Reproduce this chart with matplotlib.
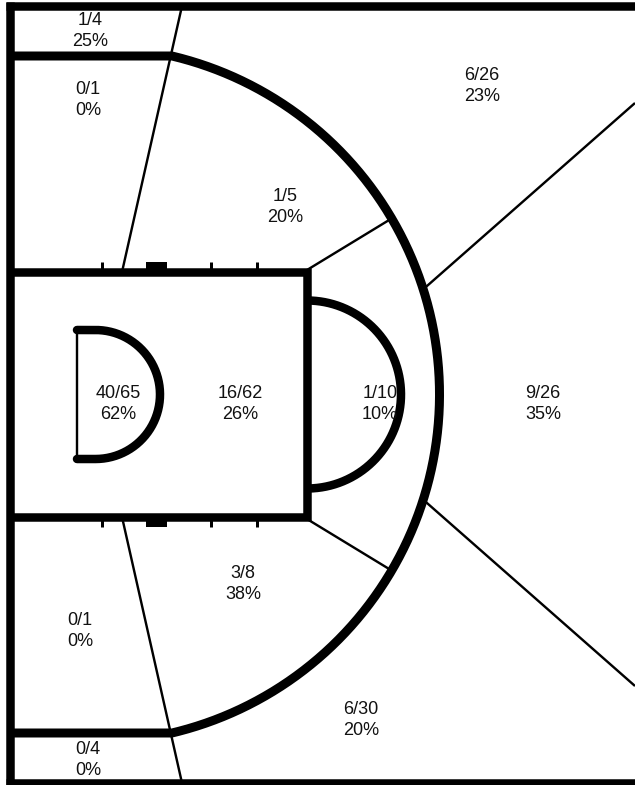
import numpy as np
import matplotlib.pyplot as plt

plt.rcParams['font.family'] = ['Liberation Sans', 'DejaVu Sans']

# shooting zones: makes / attempts
zones = ['top corner', 'top baseline mid', 'top wing 3', 'top elbow mid', 'restricted',
         'paint', 'top of key mid', 'top of key 3', 'bottom elbow mid', 'bottom baseline mid',
         'bottom wing 3', 'bottom corner']
made = [1, 0, 6, 1, 40, 16, 1, 9, 3, 0, 6, 0]
attempts = [4, 1, 26, 5, 65, 62, 10, 26, 8, 1, 30, 4]

# where each zone label sits (court drawn in pixel units, y down)
label_x = [90, 88, 482, 285, 118, 240, 380, 543, 243, 80, 361, 88]
label_y = [31, 100, 86, 207, 404, 404, 404, 404, 584, 631, 720, 760]

W, H = 635, 785
fig = plt.figure(figsize=(W / 100, H / 100), dpi=100)
ax = fig.add_axes([0, 0, 1, 1])
ax.set_xlim(0, W)
ax.set_ylim(H, 0)
ax.axis('off')

px = 0.72  # points per pixel at 100 dpi
thick = 8.5 * px
thin = 2.4 * px
ink = 'black'

mid_y = 394.5
left_x = 9.5
top_y, bot_y = 6, 783


def arc(cx, cy, r, a0, a1, n=200):
    t = np.linspace(np.radians(a0), np.radians(a1), n)
    return cx + r * np.cos(t), cy + r * np.sin(t)


# outer boundary
ax.plot([left_x, left_x], [top_y - 4, H], color=ink, lw=thick, solid_capstyle='butt')
ax.plot([left_x - 4, W], [top_y, top_y], color=ink, lw=thick, solid_capstyle='butt')
ax.plot([left_x - 4, W], [bot_y, bot_y], color=ink, lw=thick, solid_capstyle='butt')

# lane
lane_top, lane_bot, lane_right = 272, 517, 307
ax.plot([left_x, lane_right, lane_right, left_x],
        [lane_top, lane_top, lane_bot, lane_bot],
        color=ink, lw=thick, solid_joinstyle='miter', solid_capstyle='butt')

# lane hash marks and blocks
for hx in [102, 211, 257]:
    ax.plot([hx, hx], [lane_top - 10, lane_top], color=ink, lw=3 * px, solid_capstyle='butt')
    ax.plot([hx, hx], [lane_bot, lane_bot + 10], color=ink, lw=3 * px, solid_capstyle='butt')
for yy in [lane_top - 5, lane_bot + 5]:
    ax.plot([146, 167], [yy, yy], color=ink, lw=10 * px, solid_capstyle='butt')

# free throw semicircle
fx, fy = arc(lane_right, mid_y, 94, -90, 90)
ax.plot(fx, fy, color=ink, lw=thick, solid_capstyle='butt')

# restricted area
rx0, rcx, rr = 77, 95.5, 64.5
ax.plot([rx0, rx0], [mid_y - rr, mid_y + rr], color=ink, lw=thin)
ax_, ay_ = arc(rcx, mid_y, rr, -90, 90)
ax.plot(np.r_[rx0, ax_, rx0], np.r_[mid_y - rr, ay_, mid_y + rr],
        color=ink, lw=thick, solid_capstyle='round', solid_joinstyle='round')

# three point line
bx, corner_x = 91.6, 172
corner_top, corner_bot = 56, 733
R = np.hypot(corner_x - bx, corner_top - mid_y)
a_top = np.degrees(np.arctan2(corner_top - mid_y, corner_x - bx))
tx, ty = arc(bx, mid_y, R, a_top, -a_top, 400)
ax.plot(np.r_[left_x, tx, left_x], np.r_[corner_top, ty, corner_bot],
        color=ink, lw=9 * px, solid_capstyle='butt', solid_joinstyle='round')

# zone dividers
def on_arc(deg):
    return bx + R * np.cos(np.radians(deg)), mid_y + R * np.sin(np.radians(deg))

dividers = [
    ([182, 122], [top_y, lane_top]),
    ([122, 182], [lane_bot, bot_y]),
]
for sgn in (-1, 1):
    ex, ey = on_arc(sgn * 30.4)
    dividers.append(([lane_right, ex], [mid_y + sgn * (mid_y - lane_top + 2), ey]))
    gx, gy = on_arc(sgn * 17.6)
    dividers.append(([gx, W], [gy, mid_y + sgn * (mid_y - 103)]))
for xs, ys in dividers:
    ax.plot(xs, ys, color=ink, lw=thin, solid_capstyle='butt')

# zone labels
for x, y, m, a in zip(label_x, label_y, made, attempts):
    pct = int(100 * m / a + 0.5)
    ax.text(x, y, f'{m}/{a}\n{pct}%', ha='center', va='center',
            fontsize=13, color='#111111', linespacing=1.25)

fig.savefig('out.png', dpi=100)
